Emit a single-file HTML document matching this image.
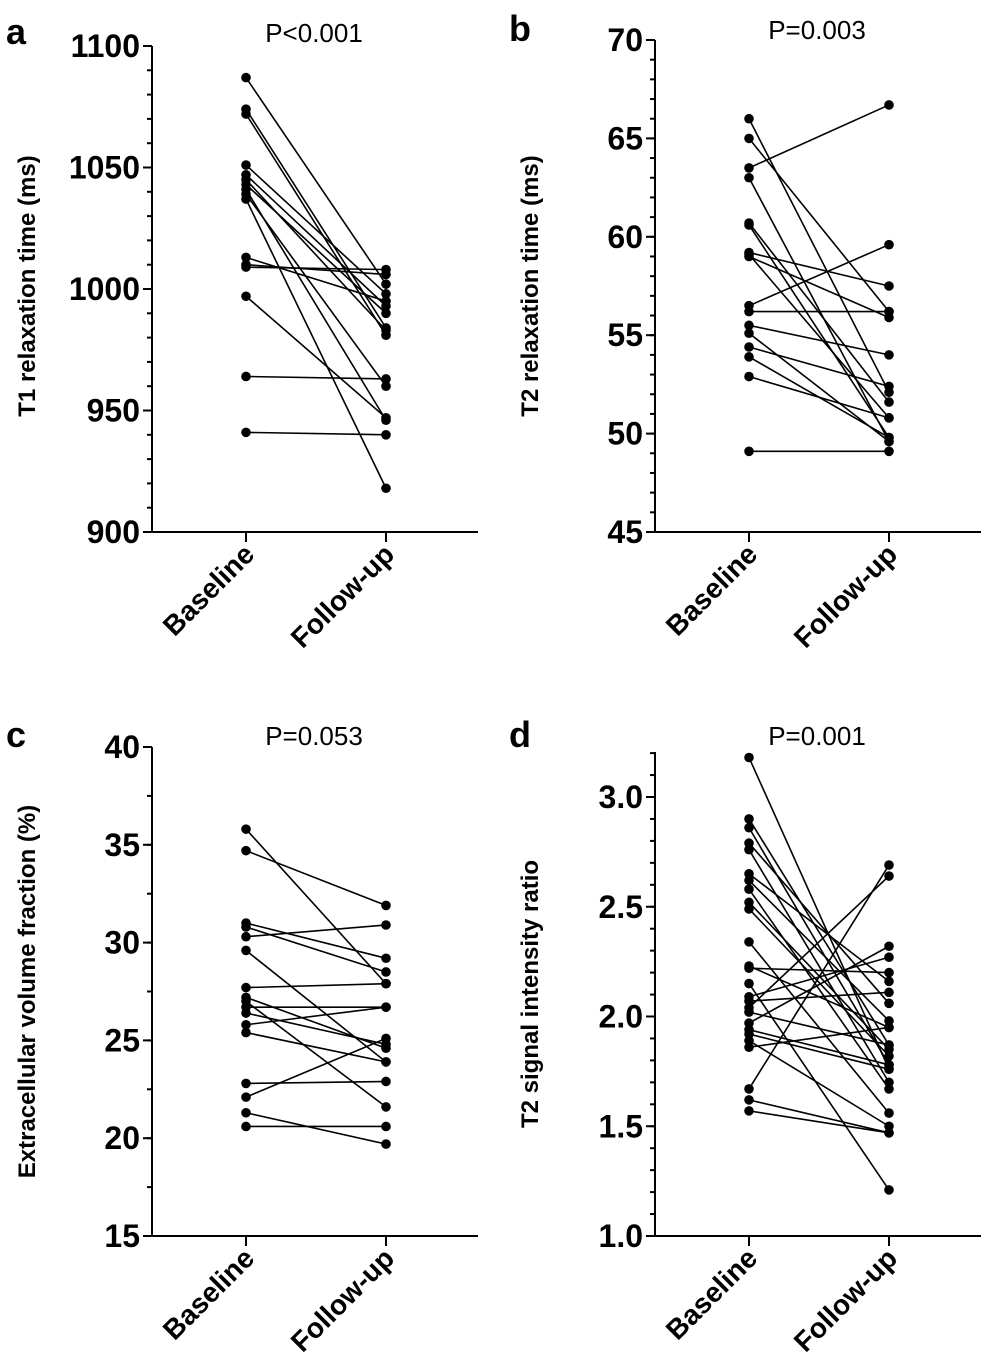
<!DOCTYPE html>
<html><head><meta charset="utf-8"><style>
html,body{margin:0;padding:0;background:#fff}
svg{display:block;font-family:"Liberation Sans",Arial,sans-serif}
</style></head><body>
<svg id="fig" width="986" height="1367" viewBox="0 0 986 1367"></svg>
<script>
const categories = ["Baseline", "Follow-up"];
const t1Baseline = [1087,1074,1072,1051,1047,1045,1043,1041,1039,1037,1013,1010,1009,997,964,941];
const t1Follow   = [1002,984,981,998,993,983,990,946,960,918,995,1006,1008,947,963,940];
const t2Baseline = [66.0,65.0,63.5,63.0,60.7,60.6,59.2,59.0,59.1,56.5,56.2,55.5,55.1,54.4,53.9,52.9,49.1];
const t2Follow   = [52.1,56.2,66.7,49.6,51.6,49.8,57.5,55.9,50.8,59.6,56.2,54.0,49.6,52.4,49.8,50.8,49.1];
const ecvBaseline = [35.8,34.7,31.0,30.8,30.3,29.6,27.7,27.2,27.0,26.7,26.4,25.8,25.4,22.8,22.1,21.3,20.6];
const ecvFollow   = [27.9,31.9,29.2,28.5,30.9,23.9,27.9,24.6,21.6,26.7,24.8,26.7,23.9,22.9,25.1,19.7,20.6];
const siBaseline = [3.18,2.90,2.86,2.79,2.76,2.65,2.62,2.58,2.52,2.49,2.34,2.23,2.22,2.15,2.09,2.07,2.04,2.02,1.97,1.94,1.92,1.89,1.86,1.67,1.62,1.57];
const siFollow   = [1.76,1.87,1.78,2.06,1.70,2.16,1.98,1.67,1.85,1.82,1.56,1.95,2.20,1.21,2.27,2.11,2.64,1.87,2.32,1.78,1.76,1.50,1.95,2.69,1.47,1.47];
const t1Ticks = [900,950,1000,1050,1100];
const t2Ticks = [45,50,55,60,65,70];
const ecvTicks = [15,20,25,30,35,40];
const siTicks = ["1.0","1.5","2.0","2.5","3.0"];

const NS="http://www.w3.org/2000/svg";
const svg=document.getElementById('fig');
function mk(tag,attrs,parent){const e=document.createElementNS(NS,tag);for(const k in attrs)e.setAttribute(k,attrs[k]);(parent||svg).appendChild(e);return e;}

function panel(cfg){
  const g=mk('g',{});
  
  
  const y=v=>cfg.y0+(v-cfg.vmin)/(cfg.vmax-cfg.vmin)*(cfg.y1-cfg.y0);
  const x=[cfg.ax+94,cfg.ax+234];
  const ya=mk('line',{x1:cfg.ax,y1:cfg.axTop,x2:cfg.ax,y2:cfg.y0,stroke:'#000','stroke-width':2},g);
  
  const xa=mk('line',{x1:cfg.ax,y1:cfg.y0,x2:cfg.ax+326,y2:cfg.y0,stroke:'#000','stroke-width':2},g);
  
  // minor ticks
  const vTop=cfg.vmin+(cfg.y0-cfg.axTop)/(cfg.y0-cfg.y1)*(cfg.vmax-cfg.vmin);
  for(let v=cfg.vmin; v<=vTop+1e-6; v+=cfg.minor){
    mk('line',{x1:cfg.ax-5,y1:y(v),x2:cfg.ax,y2:y(v),stroke:'#000','stroke-width':2},g);
  }
  cfg.ticks.forEach(t=>{
    const s=String(t),v=parseFloat(t),yy=y(v);
    mk('line',{x1:cfg.ax-9,y1:yy,x2:cfg.ax,y2:yy,stroke:'#000','stroke-width':2},g);
    const tx=mk('text',{x:cfg.ax-12,y:yy+11,'text-anchor':'end','font-size':32,'font-weight':'bold'},g);
    tx.textContent=s;
    
  });
  categories.forEach((c,i)=>{
    mk('line',{x1:x[i],y1:cfg.y0,x2:x[i],y2:cfg.y0+10,stroke:'#000','stroke-width':2},g);
    const tx=mk('text',{x:0,y:0,'text-anchor':'end','font-size':28,'font-weight':'bold',transform:`translate(${x[i]+10},${cfg.y0+24}) rotate(-45)`},g);
    tx.textContent=c;
    
  });
  const yt=mk('text',{x:0,y:0,'text-anchor':'middle','font-size':24,'font-weight':'bold',transform:`translate(${cfg.ax-117},${(cfg.y0+cfg.axTop)/2 - (cfg.tshift||0)}) rotate(-90)`},g);
  yt.textContent=cfg.ytitle;
  const p=mk('text',{x:cfg.ax+162,y:cfg.pY,'text-anchor':'middle','font-size':26},g);
  p.textContent=cfg.p;
  const l=mk('text',{x:cfg.ax-146,y:cfg.pY+2,'font-size':36,'font-weight':'bold'},g);
  l.textContent=cfg.letter;
  cfg.b.forEach((bv,i)=>{
    const fv=cfg.f[i];
    const ln=mk('line',{x1:x[0],y1:y(bv),x2:x[1],y2:y(fv),stroke:'#000','stroke-width':1.6},g);
    
    const c1=mk('circle',{cx:x[0],cy:y(bv),r:4.8,fill:'#000'},g);
    
    const c2=mk('circle',{cx:x[1],cy:y(fv),r:4.8,fill:'#000'},g);
    
  });
}
panel({name:'panel-a-t1',ax:152,y0:532,y1:46,axTop:46,vmin:900,vmax:1100,minor:10,ticks:t1Ticks,b:t1Baseline,f:t1Follow,ytitle:'T1 relaxation time (ms)',p:'P<0.001',pY:42,letter:'a',tshift:3});
panel({name:'panel-b-t2',ax:655,y0:532,y1:40,axTop:40,vmin:45,vmax:70,minor:1,ticks:t2Ticks,b:t2Baseline,f:t2Follow,ytitle:'T2 relaxation time (ms)',p:'P=0.003',pY:39,letter:'b'});
panel({name:'panel-c-ecv',ax:152,y0:1236,y1:747,axTop:747,vmin:15,vmax:40,minor:2.5,ticks:ecvTicks,b:ecvBaseline,f:ecvFollow,ytitle:'Extracellular volume fraction (%)',p:'P=0.053',pY:745,letter:'c'});
panel({name:'panel-d-si',ax:655,y0:1236,y1:797,axTop:752,vmin:1.0,vmax:3.0,minor:0.1,ticks:siTicks,b:siBaseline,f:siFollow,ytitle:'T2 signal intensity ratio',p:'P=0.001',pY:745,letter:'d'});
</script>
</body></html>
